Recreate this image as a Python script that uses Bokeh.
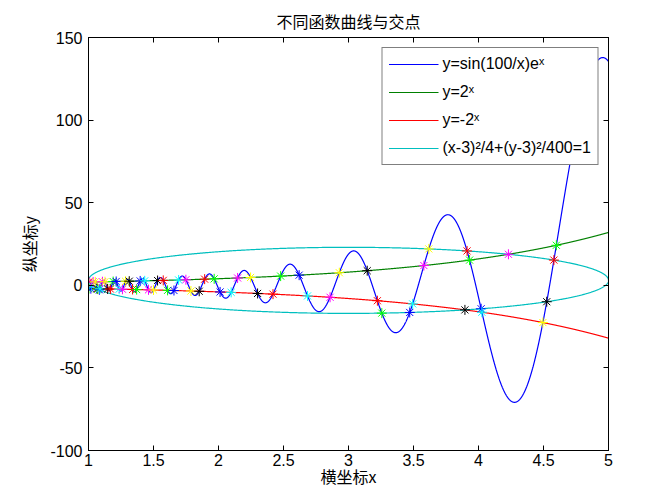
import numpy as np
from bokeh.plotting import figure
from bokeh.models import LinearAxis, Range1d, FixedTicker, Legend, LegendItem
from bokeh.embed import file_html
from bokeh.resources import INLINE

# ---- chart definition ----
title_text = "不同函数曲线与交点"
x_label = "横坐标x"
y_label = "纵坐标y"
x_limits = [1, 5]
y_limits = [-100, 150]
x_ticks = [1, 1.5, 2, 2.5, 3, 3.5, 4, 4.5, 5]
x_tick_labels = ["1", "1.5", "2", "2.5", "3", "3.5", "4", "4.5", "5"]
y_ticks = [-100, -50, 0, 50, 100, 150]
y_tick_labels = ["-100", "-50", "0", "50", "100", "150"]
series_names = ["y=sin(100/x)eˣ", "y=2ˣ", "y=-2ˣ", "(x-3)²/4+(y-3)²/400=1"]
series_colors = ["#0000FF", "#008000", "#FF0000", "#00BFBF"]
marker_colors = ["#FF0000", "#00FF00", "#0000FF", "#00FFFF", "#FF00FF", "#FFFF00", "#000000"]

# ellipse parameters from the legend: (x-3)^2/4 + (y-3)^2/400 = 1
ell_cx, ell_cy, ell_a, ell_b = 3.0, 3.0, 2.0, 20.0


def f_sin(x):
    return np.sin(100.0 / x) * np.exp(x)


def f_pow(x):
    return 2.0 ** x


def f_neg(x):
    return -(2.0 ** x)


def ell_up(x):
    return ell_cy + ell_b * np.sqrt(np.clip(1 - (x - ell_cx) ** 2 / ell_a ** 2, 0, None))


def ell_lo(x):
    return ell_cy - ell_b * np.sqrt(np.clip(1 - (x - ell_cx) ** 2 / ell_a ** 2, 0, None))


# curves
xs = np.linspace(x_limits[0], x_limits[1], 8001)
ts = np.linspace(0, 2 * np.pi, 1441)
curves = [
    (xs, f_sin(xs)),
    (xs, f_pow(xs)),
    (xs, f_neg(xs)),
    (ell_cx + ell_a * np.cos(ts), ell_cy + ell_b * np.sin(ts)),
]


# intersections
def roots(f, g, lo=1.0, hi=5.0, n=400001):
    xg = np.linspace(lo, hi, n)
    d = f(xg) - g(xg)
    idx = np.where(np.sign(d[:-1]) * np.sign(d[1:]) < 0)[0]
    out = []
    for i in idx:
        a, b = xg[i], xg[i + 1]
        da = f(a) - g(a)
        for _ in range(60):
            m = 0.5 * (a + b)
            dm = f(m) - g(m)
            if np.sign(dm) == np.sign(da):
                a, da = m, dm
            else:
                b = m
        r = 0.5 * (a + b)
        out.append((r, f(r)))
    return out


pairs = [(f_sin, f_pow), (f_sin, f_neg), (f_sin, ell_up), (f_sin, ell_lo),
         (f_pow, ell_up), (f_pow, ell_lo), (f_neg, ell_up), (f_neg, ell_lo)]
pts = []
for f, g in pairs:
    pts += roots(f, g)
pts.sort()
px = [q[0] for q in pts]
py = [q[1] for q in pts]
pc = [marker_colors[i % len(marker_colors)] for i in range(len(pts))]

# ---- figure ----
p = figure(width=672, height=504,
           x_range=Range1d(*x_limits), y_range=Range1d(*y_limits),
           output_backend="svg", toolbar_location=None,
           min_border_left=88, min_border_right=64,
           min_border_top=37, min_border_bottom=54,
           background_fill_color="white", border_fill_color="white")
p.outline_line_color = "black"
p.outline_line_width = 1
p.grid.visible = False

font = "Liberation Sans"
cjk = "Noto Sans CJK SC"

p.title.text = title_text
p.title.align = "center"
p.title.text_font = cjk
p.title.text_font_size = "16px"
p.title.text_font_style = "normal"
p.title.text_color = "black"

xa = p.xaxis[0]
ya = p.yaxis[0]
xa.ticker = FixedTicker(ticks=x_ticks)
ya.ticker = FixedTicker(ticks=y_ticks)
xa.major_label_overrides = {float(t): l for t, l in zip(x_ticks, x_tick_labels)}
ya.major_label_overrides = {float(t): l for t, l in zip(y_ticks, y_tick_labels)}
xa.axis_label = x_label
ya.axis_label = y_label
for ax in (xa, ya):
    ax.major_tick_in = 5
    ax.major_tick_out = 0
    ax.minor_tick_line_color = None
    ax.axis_line_color = "black"
    ax.major_tick_line_color = "black"
    ax.major_label_text_font = font
    ax.major_label_text_font_size = "16px"
    ax.major_label_text_color = "black"
    ax.axis_label_text_font = cjk
    ax.axis_label_text_font_size = "16px"
    ax.axis_label_text_font_style = "normal"
    ax.axis_label_text_color = "black"
xa.major_label_standoff = 3
xa.axis_label_standoff = -5
ya.major_label_standoff = 6
ya.axis_label_standoff = 6

top = LinearAxis(ticker=FixedTicker(ticks=x_ticks), major_tick_in=5, major_tick_out=0,
                 minor_tick_line_color=None, major_label_standoff=0,
                 major_label_overrides={float(t): "" for t in x_ticks})
right = LinearAxis(ticker=FixedTicker(ticks=y_ticks), major_tick_in=5, major_tick_out=0,
                   minor_tick_line_color=None, major_label_standoff=0,
                   major_label_overrides={float(t): "" for t in y_ticks})
p.add_layout(top, "above")
p.add_layout(right, "right")

renderers = []
for (cx, cy), c in zip(curves, series_colors):
    renderers.append(p.line(cx, cy, line_color=c, line_width=1.2))

p.scatter(px, py, marker="asterisk", size=10, line_color=pc, line_width=1)

legend = Legend(items=[LegendItem(label=n, renderers=[r]) for n, r in zip(series_names, renderers)],
                location="top_right", margin=10, padding=6, spacing=8,
                label_height=20, glyph_height=20, glyph_width=50, label_standoff=4,
                border_line_color="black", border_line_width=1,
                background_fill_color="white", background_fill_alpha=1,
                label_text_font=font, label_text_font_size="16px", label_text_color="black")
p.add_layout(legend, "center")

open("out.html", "w").write(file_html(p, INLINE))
